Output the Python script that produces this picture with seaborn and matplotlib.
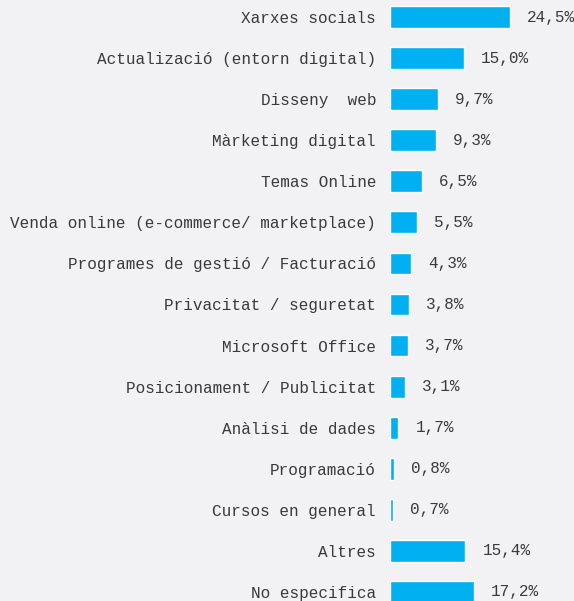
import matplotlib
matplotlib.use("Agg")
import matplotlib.pyplot as plt
import seaborn as sns
import pandas as pd

categories = [
    "Xarxes socials",
    "Actualizació (entorn digital)",
    "Disseny  web",
    "Màrketing digital",
    "Temas Online",
    "Venda online (e-commerce/ marketplace)",
    "Programes de gestió / Facturació",
    "Privacitat / seguretat",
    "Microsoft Office",
    "Posicionament / Publicitat",
    "Anàlisi de dades",
    "Programació",
    "Cursos en general",
    "Altres",
    "No especifica",
]
values = [24.5, 15.0, 9.7, 9.3, 6.5, 5.5, 4.3, 3.8, 3.7, 3.1, 1.7, 0.8, 0.7, 15.4, 17.2]

bg = "#f2f2f5"
bar_color = "#00b0f0"
text_color = "#3a3a3a"

sns.set_theme(style="white")
plt.rcParams["font.family"] = ["Liberation Mono", "DejaVu Sans Mono"]

df = pd.DataFrame({"cat": categories, "val": values})

fig = plt.figure(figsize=(5.74, 6.01), dpi=100, facecolor=bg)
ax = fig.add_axes([390 / 574, 0, 1 - 390 / 574, 1])
ax.set_facecolor(bg)

sns.barplot(data=df, y="cat", x="val", orient="h", color=bar_color,
            saturation=1, width=0.53, ax=ax)

ax.set_xlim(0, 37.55)
ax.set_ylim(14.22, -0.414)
ax.set_xlabel("")
ax.set_ylabel("")
ax.set_xticks([])
ax.tick_params(axis="y", length=0, pad=10, labelsize=11.5, labelcolor=text_color)
for s in ax.spines.values():
    s.set_visible(False)

for i, v in enumerate(values):
    ax.text(v + 17 / 4.9, i, f"{v:.1f}%".replace(".", ","), va="center", ha="left",
            fontsize=11.5, color=text_color)

fig.savefig("out.png", dpi=100, facecolor=bg)
